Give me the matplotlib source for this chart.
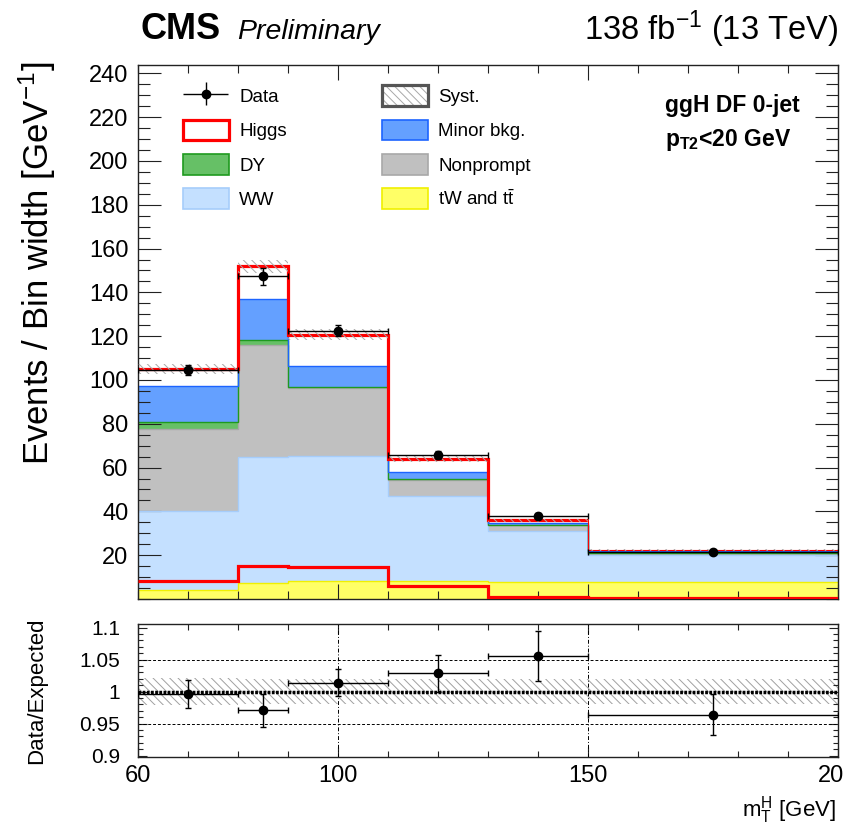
import matplotlib
matplotlib.use("Agg")
import matplotlib.pyplot as plt
import numpy as np
from matplotlib.patches import Rectangle
from matplotlib.ticker import MultipleLocator, FixedLocator
from matplotlib.legend_handler import HandlerErrorbar, HandlerTuple
from matplotlib.container import ErrorbarContainer

plt.rcParams['font.family'] = ['Liberation Sans', 'DejaVu Sans']
plt.rcParams['mathtext.fontset'] = 'custom'
plt.rcParams['mathtext.rm'] = 'Liberation Sans'
plt.rcParams['mathtext.it'] = 'Liberation Sans:italic'
plt.rcParams['mathtext.bf'] = 'Liberation Sans:bold'
plt.rcParams['hatch.linewidth'] = 0.7

# mT^H binning (GeV)
edges = np.array([60, 80, 90, 110, 130, 150, 200])

# per-bin yields, events / GeV
tw_tt = np.array([4.0, 7.3, 8.3, 8.0, 7.9, 7.9])
ww = np.array([36.3, 57.6, 57.0, 39.1, 23.3, 12.3])
nonprompt = np.array([37.1, 50.9, 31.0, 7.2, 2.4, 0.8])
dy = np.array([3.6, 2.3, 0.5, 0.3, 0.3, 0.1])
minor = np.array([16.1, 18.8, 9.4, 3.2, 1.0, 0.7])
higgs = np.array([8.0, 15.0, 14.5, 6.0, 1.0, 0.4])

data = np.array([104.7, 147.4, 122.4, 65.6, 37.9, 21.4])
data_err = np.array([2.3, 3.9, 2.5, 1.8, 1.4, 0.7])
syst_rel = np.array([0.021, 0.02, 0.02, 0.02, 0.02, 0.02])

# stack order bottom -> top: (label, values, fill colour, edge colour)
stack = [
    ("tW and t$\\bar{\\mathrm{t}}$", tw_tt, "#ffff66", "#f0f000"),
    ("WW", ww, "#c4e0ff", "#a6cdfb"),
    ("Nonprompt", nonprompt, "#c0c0c0", "#a8a8a8"),
    ("DY", dy, "#66c066", "#1f9a1f"),
    ("Minor bkg.", minor, "#64a0ff", "#1c64ff"),
]

centers = 0.5 * (edges[:-1] + edges[1:])
half = 0.5 * np.diff(edges)
total = tw_tt + ww + nonprompt + dy + minor + higgs
ratio = data / total
ratio_err = data_err / total

W, H = 844, 827
fig = plt.figure(figsize=(W / 100, H / 100), dpi=100)


def px(x, y):
    return x / W, 1 - y / H


ax = fig.add_axes([138 / W, 1 - 599 / H, 700 / W, 534 / H])
ax2 = fig.add_axes([138 / W, 1 - 757 / H, 700 / W, 133 / H])

# stacked backgrounds
bottom = np.zeros(len(centers))
handles = {}
for name, vals, fc, ec in stack:
    top = bottom + vals
    ax.stairs(top, edges, baseline=bottom, fill=True, facecolor=fc, lw=0, zorder=1)
    ax.stairs(top, edges, baseline=None, color=ec, lw=1.0, zorder=2)
    handles[name] = Rectangle((0, 0), 1, 1, facecolor=fc, edgecolor=ec, lw=1.2)
    bottom = top

# Higgs on top of the stack and superimposed alone
ax.stairs(total[:5], edges[:6], baseline=None, color="red", lw=2.3, zorder=3)
ax.stairs(total[4:], edges[4:], baseline=None, color="red", lw=0.8, zorder=3)
ax.stairs(higgs, edges, baseline=None, color="red", lw=2.3, zorder=3)

# systematic band
ax.stairs(total * (1 + syst_rel), edges, baseline=total * (1 - syst_rel), fill=True,
          facecolor="none", edgecolor="#a8a8a8", lw=0, hatch="\\\\\\\\", zorder=4)

ax.errorbar(centers, data, xerr=half, yerr=data_err, fmt="o", color="black", ms=6,
            lw=1.0, capsize=2.5, capthick=1.0, zorder=6)

ax.set_xlim(60, 200)
ax.set_ylim(0, 243.8)
ax.yaxis.set_major_locator(FixedLocator(np.arange(20, 241, 20)))
ax.yaxis.set_minor_locator(MultipleLocator(5))
ax.xaxis.set_major_locator(FixedLocator([100, 150, 200]))
ax.xaxis.set_minor_locator(MultipleLocator(10))
ax.tick_params(which="both", direction="in", top=True, right=True, labelbottom=False,
               width=0.8, color="#222222")
ax.tick_params(axis="y", which="major", length=16.5, labelsize=17, pad=7)
ax.tick_params(axis="y", which="minor", length=8.6)
ax.tick_params(axis="x", which="major", length=10.8)
ax.tick_params(axis="x", which="minor", length=5.8)
for s in ax.spines.values():
    s.set_linewidth(1.0)
    s.set_color("#222222")

# legend, two columns
data_proxy = ax.errorbar([np.nan], [np.nan], xerr=[1], yerr=[1], fmt="o", color="black",
                         ms=6, lw=1.0, capsize=0)
higgs_h = Rectangle((0, 0), 1, 1, facecolor="white", edgecolor="red", lw=2.3)
syst_h = (Rectangle((0, 0), 1, 1, facecolor="white", edgecolor="#a8a8a8", lw=0,
                    hatch="\\\\\\\\"),
          Rectangle((0, 0), 1, 1, fill=False, edgecolor="#555555", lw=2.3))
leg_kw = dict(loc="upper left", frameon=False, fontsize=13.5, handlelength=2.45,
              handleheight=1.33, handletextpad=0.55, labelspacing=0.72, borderpad=0,
              borderaxespad=0,
              handler_map={ErrorbarContainer: HandlerErrorbar(xerr_size=1.2, yerr_size=0.6),
                           tuple: HandlerTuple(ndivide=1)})
leg1 = ax.legend([data_proxy, higgs_h, handles["DY"], handles["WW"]],
                 ["Data", "Higgs", "DY", "WW"], bbox_to_anchor=(0.0643, 0.962), **leg_kw)
ax.add_artist(leg1)
ax.legend([syst_h, handles["Minor bkg."], handles["Nonprompt"],
           handles["tW and t$\\bar{\\mathrm{t}}$"]],
          ["Syst.", "Minor bkg.", "Nonprompt", "tW and t$\\bar{\\mathrm{t}}$"],
          bbox_to_anchor=(0.3486, 0.962), **leg_kw)

# ratio panel
ax2.stairs(1 + syst_rel, edges, baseline=1 - syst_rel, fill=True, facecolor="none",
           edgecolor="#a0a0a0", lw=0, hatch="\\\\\\\\", zorder=1)
for yv in (0.95, 1.05):
    ax2.axhline(yv, color="black", lw=0.7, ls=(0, (3, 2)), zorder=2)
for xv in (100, 150):
    ax2.axvline(xv, color="black", lw=0.7, ls=(0, (4, 2, 1, 2)), zorder=2)
ax2.axhline(1.0, color="black", lw=2.5, ls=(0, (0.8, 0.4)), zorder=3)
ax2.errorbar(centers, ratio, xerr=half, yerr=ratio_err, fmt="o", color="black", ms=6,
             lw=1.0, capsize=2.5, capthick=1.0, zorder=5)

ax2.set_xlim(60, 200)
ax2.set_ylim(0.8977, 1.1055)
ax2.yaxis.set_major_locator(FixedLocator([0.9, 0.95, 1.0, 1.05, 1.1]))
ax2.set_yticklabels(["0.9", "0.95", "1", "1.05", "1.1"])
ax2.yaxis.set_minor_locator(MultipleLocator(0.01))
ax2.xaxis.set_major_locator(FixedLocator([60, 100, 150, 200]))
ax2.xaxis.set_minor_locator(MultipleLocator(10))
ax2.tick_params(which="both", direction="in", top=True, right=True, width=0.8,
                color="#222222")
ax2.tick_params(axis="y", which="major", length=6.5, labelsize=15, pad=13)
ax2.tick_params(axis="y", which="minor", length=3.6)
ax2.tick_params(axis="x", which="major", length=7.5, labelsize=17, pad=6)
ax2.tick_params(axis="x", which="minor", length=4)
for s in ax2.spines.values():
    s.set_linewidth(1.0)
    s.set_color("#222222")

# labels and header
fig.text(*px(37, 62), "Events / Bin width [GeV$^{-1}$]", rotation=90, ha="center",
         va="top", fontsize=25)
fig.text(*px(37, 691), "Data/Expected", rotation=90, ha="center", va="center",
         fontsize=16)
fig.text(*px(836, 816), "$\\mathrm{m}_{\\mathrm{T}}^{\\mathrm{H}}$ [GeV]", ha="right",
         va="baseline", fontsize=16)
fig.text(*px(140, 39), "CMS", fontsize=26, fontweight="bold", va="baseline")
fig.text(*px(237, 39), "Preliminary", fontsize=20.5, style="italic", va="baseline")
fig.text(*px(838, 40), "138 fb$^{-1}$ (13 TeV)", fontsize=23.5, ha="right", va="baseline")
fig.text(*px(665, 112), "ggH DF 0-jet", fontsize=16.5, fontweight="bold", va="baseline")
fig.text(*px(665, 146), "$\\mathbf{p}_{\\mathbf{T2}}$<20 GeV", fontsize=16.5,
         fontweight="bold", va="baseline")

fig.savefig("out.png", dpi=100)
